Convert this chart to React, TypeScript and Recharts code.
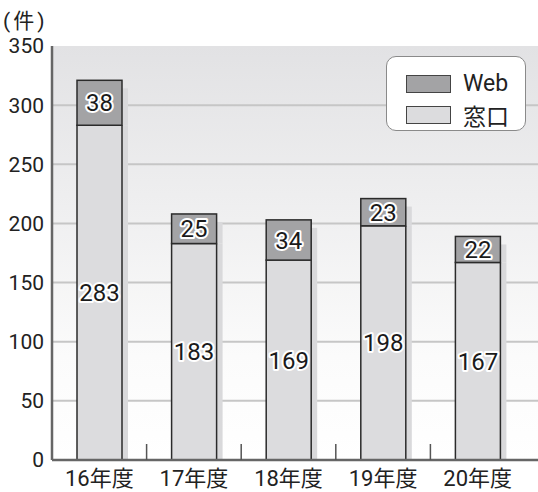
import { Bar, BarChart, CartesianGrid, LabelList, XAxis, YAxis } from "recharts";

const years = ["16年度", "17年度", "18年度", "19年度", "20年度"];
const madoguchi = [283, 183, 169, 198, 167];
const web = [38, 25, 34, 23, 22];
const yTicks = [0, 50, 100, 150, 200, 250, 300, 350];
const gridValues = [50, 100, 150, 200, 250, 300];

const data = years.map((year, i) => ({
  year,
  madoguchi: madoguchi[i],
  web: web[i],
}));

const FONT = "Roboto, 'Noto Sans CJK JP', sans-serif";
const WEB_FILL = "#a3a3a5";
const MADO_FILL = "#dcdcde";

function ShadowBar(props: any) {
  const { x, y, width, height, fill, top } = props;
  if (width == null || height == null) return null;
  const cut = top ? 8 : 0;
  return (
    <g>
      <rect
        x={x + 6}
        y={y + cut}
        width={width}
        height={Math.max(0, height - cut)}
        fill="#d9d9db"
      />
      <rect
        x={x}
        y={y}
        width={width}
        height={height}
        fill={fill}
        stroke="#2b2b2b"
        strokeWidth={1.5}
      />
    </g>
  );
}

function YearTick(props: any) {
  const { x, y, payload, index } = props;
  const half = payload?.offset ?? 47;
  return (
    <g>
      <text
        x={x}
        y={y}
        dy={26}
        textAnchor="middle"
        fontFamily={FONT}
        fontSize={22}
        fill="#222"
      >
        {payload.value}
      </text>
      {index < years.length - 1 && (
        <line
          x1={x + half}
          x2={x + half}
          y1={y - 16}
          y2={y}
          stroke="#555"
          strokeWidth={1.5}
        />
      )}
    </g>
  );
}

const valueLabel = {
  position: "center" as const,
  fontFamily: FONT,
  fontSize: 24,
  fill: "#1a1a1a",
  stroke: "#fff",
  strokeWidth: 4,
  paintOrder: "stroke",
  strokeLinejoin: "round" as const,
};

export default function App() {
  return (
    <div
      style={{
        position: "absolute",
        left: 0,
        top: 0,
        width: 538,
        height: 492,
        background: "#fff",
        fontFamily: FONT,
      }}
    >
      <BarChart
        width={538}
        height={492}
        data={data}
        margin={{ top: 46, right: 0, left: 0, bottom: 0 }}
        barSize={45}
      >
        <defs>
          <linearGradient id="bgFill" x1="0" y1="0" x2="0" y2="1">
            <stop offset="0%" stopColor="#e2e2e4" />
            <stop offset="75%" stopColor="#fbfbfb" />
            <stop offset="100%" stopColor="#ffffff" />
          </linearGradient>
        </defs>
        <CartesianGrid
          vertical={false}
          horizontalValues={gridValues}
          stroke="#c6c6c6"
          strokeWidth={2}
          fill="url(#bgFill)"
          fillOpacity={1}
        />
        <XAxis
          dataKey="year"
          height={32}
          padding={{ left: 0, right: 13 }}
          tickLine={false}
          tickSize={0}
          tickMargin={0}
          axisLine={{ stroke: "#666", strokeWidth: 2.5 }}
          tick={<YearTick />}
          interval={0}
        />
        <YAxis
          width={52}
          domain={[0, 350]}
          ticks={yTicks}
          tickLine={false}
          axisLine={{ stroke: "#666", strokeWidth: 2.5 }}
          tick={{ fill: "#222", fontSize: 21, fontFamily: FONT }}
          interval={0}
        />
        <Bar
          dataKey="madoguchi"
          stackId="a"
          fill={MADO_FILL}
          shape={<ShadowBar />}
          isAnimationActive={false}
        >
          <LabelList dataKey="madoguchi" {...valueLabel} />
        </Bar>
        <Bar
          dataKey="web"
          stackId="a"
          fill={WEB_FILL}
          shape={<ShadowBar top />}
          isAnimationActive={false}
        >
          <LabelList dataKey="web" {...valueLabel} />
        </Bar>
      </BarChart>

      <div
        style={{
          position: "absolute",
          left: 3,
          top: 10,
          fontSize: 21,
          lineHeight: "22px",
          letterSpacing: 3,
          color: "#222",
        }}
      >
        (件)
      </div>

      <div
        style={{
          position: "absolute",
          left: 386,
          top: 56,
          width: 140,
          height: 75,
          boxSizing: "border-box",
          background: "#fff",
          border: "1.5px solid #8a8a8a",
          borderRadius: 10,
          padding: "11px 0 0 19px",
        }}
      >
        {[
          { name: "Web", fill: WEB_FILL },
          { name: "窓口", fill: MADO_FILL },
        ].map((item) => (
          <div
            key={item.name}
            style={{
              display: "flex",
              alignItems: "center",
              height: 31,
            }}
          >
            <span
              style={{
                display: "inline-block",
                width: 45,
                height: 18,
                background: item.fill,
                border: "1.5px solid #444",
                boxSizing: "border-box",
              }}
            />
            <span style={{ marginLeft: 12, fontSize: 23, color: "#222" }}>
              {item.name}
            </span>
          </div>
        ))}
      </div>
    </div>
  );
}
